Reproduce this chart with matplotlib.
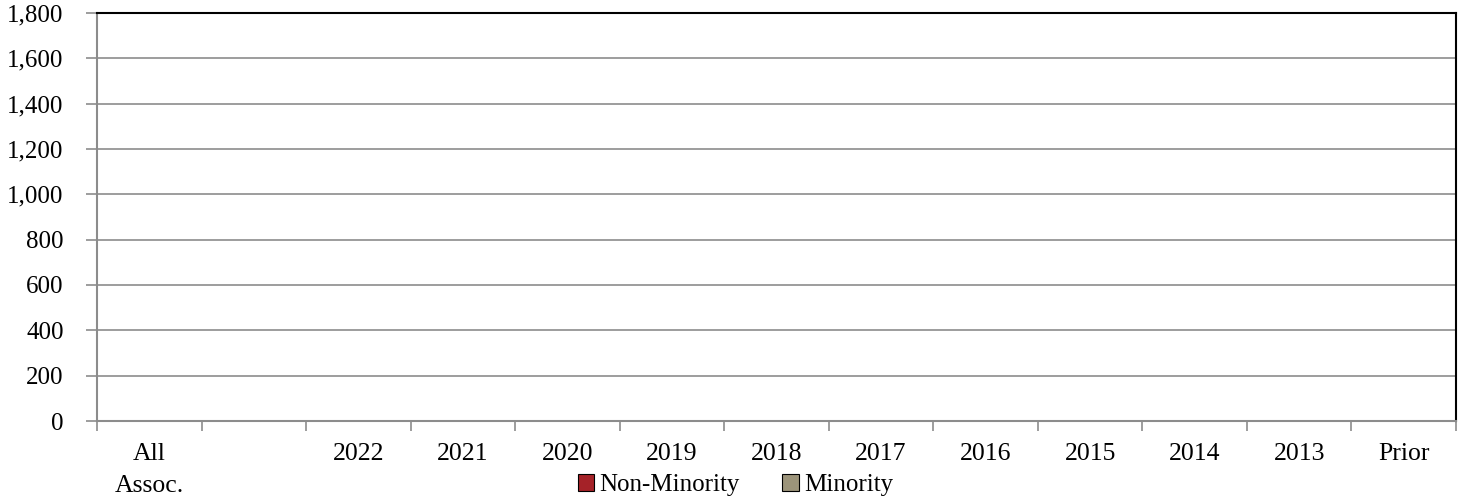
import matplotlib
matplotlib.use("Agg")
import matplotlib.pyplot as plt
import numpy as np
from matplotlib.ticker import FuncFormatter, MultipleLocator

plt.rcParams['font.family'] = ['Liberation Serif', 'DejaVu Serif']

categories = ["All\nAssoc.", "", "2022", "2021", "2020", "2019", "2018",
              "2017", "2016", "2015", "2014", "2013", "Prior"]
non_minority = [0, 0, 0, 0, 0, 0, 0, 0, 0, 0, 0, 0, 0]
minority = [0, 0, 0, 0, 0, 0, 0, 0, 0, 0, 0, 0, 0]

fig = plt.figure(figsize=(14.61, 4.99), dpi=100)
ax = fig.add_axes([0.0664, 0.1563, 0.9302, 0.8177])

x = np.arange(len(categories))
ax.bar(x, non_minority, width=0.6, color="#A52228", edgecolor="black",
       linewidth=0.8, label="Non-Minority")
ax.bar(x, minority, width=0.6, bottom=non_minority, color="#9C947A",
       edgecolor="black", linewidth=0.8, label="Minority")

ax.set_xlim(-0.5, len(categories) - 0.5)
ax.set_ylim(0, 1800)
ax.yaxis.set_major_locator(MultipleLocator(200))
ax.yaxis.set_major_formatter(FuncFormatter(lambda v, p: f"{int(v):,}"))
ax.grid(axis="y", color="#8c8c8c", linewidth=1.2)
ax.set_axisbelow(True)

ax.set_xticks(x)
ax.set_xticklabels(categories, fontsize=18.5, va="top", linespacing=1.55)
ax.set_xticks(np.arange(len(categories) + 1) - 0.5, minor=True)
ax.tick_params(axis="x", which="major", length=0, pad=16)
ax.tick_params(axis="x", which="minor", length=7, width=1.2, color="#8c8c8c")
ax.tick_params(axis="y", length=8, width=1.2, color="#8c8c8c", labelsize=18, pad=16)

for s in ("left", "bottom"):
    ax.spines[s].set_color("#8c8c8c")
    ax.spines[s].set_linewidth(1.5)
for s in ("top", "right"):
    ax.spines[s].set_color("black")
    ax.spines[s].set_linewidth(1.5)

leg = fig.legend(loc="center", bbox_to_anchor=(0.5034, 0.028), ncol=2,
                 frameon=False, fontsize=18, handlelength=0.67, handleheight=0.67,
                 handletextpad=0.2, columnspacing=1.7, borderpad=0)

fig.savefig("out.png", dpi=100)
